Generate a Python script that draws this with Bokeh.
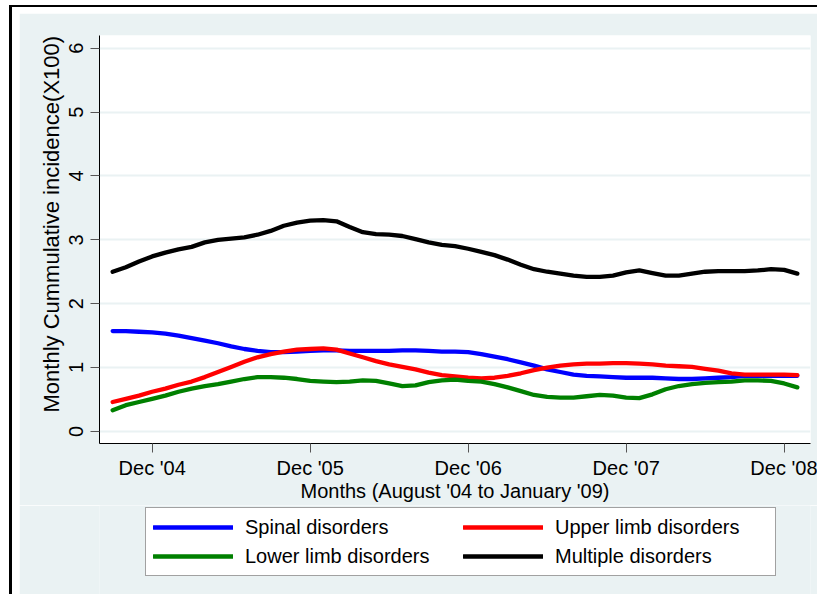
import pandas as pd
from bokeh.plotting import figure
from bokeh.models import Legend, LegendItem, FixedTicker
from bokeh.layouts import column
from bokeh.embed import file_html
from bokeh.resources import INLINE

# Months from September 2004 to January 2009
months = [str(p) for p in pd.period_range("2004-09", "2009-01", freq="M")]

spinal = [1.57, 1.57, 1.56, 1.55, 1.53, 1.50, 1.46, 1.42, 1.38, 1.33, 1.29, 1.26,
          1.24, 1.24, 1.25, 1.26, 1.27, 1.27, 1.26, 1.26, 1.26, 1.26, 1.27, 1.27,
          1.26, 1.25, 1.25, 1.24, 1.21, 1.17, 1.13, 1.08, 1.03, 0.97, 0.93, 0.89,
          0.87, 0.86, 0.85, 0.84, 0.84, 0.84, 0.83, 0.82, 0.82, 0.83, 0.84, 0.85,
          0.87, 0.87, 0.87, 0.87, 0.87]
upper = [0.46, 0.51, 0.56, 0.62, 0.67, 0.73, 0.78, 0.85, 0.93, 1.01, 1.09, 1.16,
         1.21, 1.25, 1.28, 1.29, 1.30, 1.28, 1.22, 1.16, 1.10, 1.05, 1.01, 0.97,
         0.92, 0.88, 0.86, 0.84, 0.83, 0.84, 0.87, 0.91, 0.96, 1.00, 1.03, 1.05,
         1.06, 1.06, 1.07, 1.07, 1.06, 1.05, 1.03, 1.02, 1.01, 0.98, 0.95, 0.91,
         0.89, 0.89, 0.89, 0.89, 0.88]
lower = [0.33, 0.41, 0.46, 0.51, 0.56, 0.62, 0.67, 0.71, 0.74, 0.78, 0.82, 0.85,
         0.85, 0.84, 0.82, 0.79, 0.78, 0.77, 0.78, 0.80, 0.79, 0.75, 0.71, 0.72,
         0.77, 0.80, 0.81, 0.79, 0.78, 0.74, 0.69, 0.63, 0.57, 0.54, 0.53, 0.53,
         0.55, 0.57, 0.56, 0.53, 0.52, 0.58, 0.66, 0.71, 0.74, 0.76, 0.77, 0.78,
         0.80, 0.80, 0.79, 0.75, 0.69]
multiple = [2.50, 2.57, 2.66, 2.74, 2.80, 2.85, 2.89, 2.96, 3.00, 3.02, 3.04, 3.08,
            3.14, 3.22, 3.27, 3.30, 3.31, 3.29, 3.20, 3.12, 3.09, 3.08, 3.06, 3.01,
            2.96, 2.92, 2.90, 2.86, 2.81, 2.76, 2.69, 2.61, 2.54, 2.50, 2.47, 2.44,
            2.42, 2.42, 2.44, 2.49, 2.52, 2.48, 2.44, 2.44, 2.47, 2.50, 2.51, 2.51,
            2.51, 2.52, 2.54, 2.53, 2.47]

tick_months = ["2004-12", "2005-12", "2006-12", "2007-12", "2008-12"]
tick_labels = ["Dec '04", "Dec '05", "Dec '06", "Dec '07", "Dec '08"]
y_ticks = [0, 1, 2, 3, 4, 5, 6]

series_names = ["Spinal disorders", "Upper limb disorders",
                "Lower limb disorders", "Multiple disorders"]
series_values = [spinal, upper, lower, multiple]
series_colors = ["#0000FF", "#FF0000", "#008000", "#000000"]


def month_index(s):
    y, m = s.split("-")
    return (int(y) - 2004) * 12 + int(m) - 12


x = [month_index(m) for m in months]
tick_x = [month_index(m) for m in tick_months]

FONT = "Liberation Sans"
GRAY_BG = "#EAF2F3"
LINE_W = 4.3

p = figure(width=798, height=492, output_backend="svg", toolbar_location=None,
           x_range=(-4, 50), y_range=(-0.19, 6.2),
           min_border_left=80, min_border_right=7, min_border_top=22,
           min_border_bottom=62)
p.border_fill_color = GRAY_BG
p.background_fill_color = "white"
p.outline_line_color = None

for name, vals, col in zip(series_names, series_values, series_colors):
    p.line(x, vals, line_color=col, line_width=LINE_W, line_cap="round",
           line_join="round")

# grid
p.xgrid.visible = False
p.ygrid.ticker = FixedTicker(ticks=y_ticks)
p.ygrid.grid_line_color = GRAY_BG
p.ygrid.grid_line_width = 2

# x axis
xa = p.xaxis[0]
xa.ticker = FixedTicker(ticks=tick_x)
xa.major_label_overrides = {t: l for t, l in zip(tick_x, tick_labels)}
xa.minor_tick_line_color = None
xa.major_tick_in = 0
xa.major_tick_out = 9
xa.major_tick_line_color = "#555555"
xa.axis_line_color = "black"
xa.major_label_text_font = FONT
xa.major_label_text_font_size = "20px"
xa.major_label_text_color = "black"
xa.major_label_standoff = 4
xa.axis_label = "Months (August '04 to January '09)"
xa.axis_label_text_font = FONT
xa.axis_label_text_font_size = "20px"
xa.axis_label_text_font_style = "normal"
xa.axis_label_text_color = "black"
xa.axis_label_standoff = -2

# y axis
ya = p.yaxis[0]
ya.ticker = FixedTicker(ticks=y_ticks)
ya.minor_tick_line_color = None
ya.major_tick_in = 0
ya.major_tick_out = 9
ya.major_tick_line_color = "#555555"
ya.axis_line_color = "black"
ya.major_label_orientation = "vertical"
ya.major_label_text_font = FONT
ya.major_label_text_font_size = "20px"
ya.major_label_text_color = "black"
ya.major_label_standoff = 7
ya.axis_label = "\u00a0" * 5 + "Monthly Cummulative incidence(X100)"
ya.axis_label_text_font = FONT
ya.axis_label_text_font_size = "22px"
ya.axis_label_text_font_style = "normal"
ya.axis_label_text_color = "black"
ya.axis_label_standoff = 3

# legend area below the plot (series drawn again, outside its visible y range,
# so that the legend glyphs have their renderers)
p_leg = figure(width=798, height=89, output_backend="svg", toolbar_location=None,
               x_range=(-4, 50), y_range=(10, 11),
               x_axis_location=None, y_axis_location=None,
               min_border_left=0, min_border_right=0, min_border_top=0,
               min_border_bottom=0)
p_leg.border_fill_color = GRAY_BG
p_leg.background_fill_color = GRAY_BG
p_leg.outline_line_color = None
p_leg.grid.visible = False

leg_renderers = []
for name, vals, col in zip(series_names, series_values, series_colors):
    leg_renderers.append(p_leg.line(x, vals, line_color=col, line_width=LINE_W,
                                    line_cap="round"))

items = [LegendItem(label=n, renderers=[r]) for n, r in zip(series_names, leg_renderers)]
legend = Legend(items=items, orientation="horizontal", ncols=2,
                location=(46, 18), margin=0, padding=7, spacing=5,
                glyph_width=80, glyph_height=24, label_height=24, label_width=213,
                label_standoff=12, label_text_font=FONT,
                label_text_font_size="20px", label_text_color="black",
                border_line_color="#444444", border_line_width=1,
                background_fill_color="white", background_fill_alpha=1.0)
p_leg.add_layout(legend, "center")

layout = column(p, p_leg, spacing=0,
                styles={"margin-left": "9px", "margin-top": "5px",
                        "border-left": "3px solid black",
                        "border-top": "2px solid black",
                        "padding-left": "7px", "padding-top": "6px",
                        "background-color": "white"})

open("out.html", "w").write(file_html(layout, INLINE))
